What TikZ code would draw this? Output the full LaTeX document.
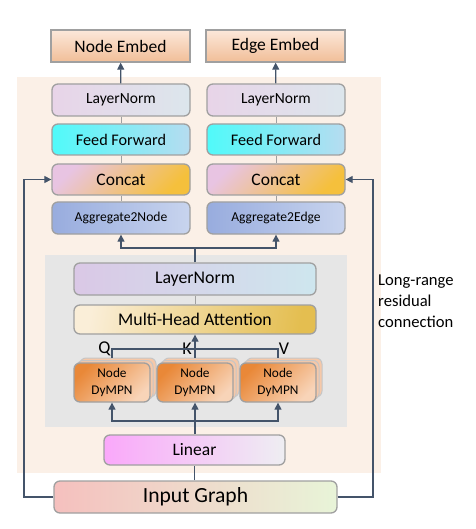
\documentclass[tikz,border=0pt]{standalone}
\usepackage{fontspec}
\setmainfont{Carlito}
\definecolor{boxgray}{HTML}{A0A0A0}
\definecolor{arrowblue}{HTML}{44546A}
\definecolor{peachbg}{HTML}{FBF0E7}
\definecolor{graybg}{HTML}{E6E6E6}
\definecolor{dyfirst}{RGB}{233,136,56}
\definecolor{dylast}{RGB}{248,212,184}
\definecolor{dyback}{RGB}{246,200,168}
\usetikzlibrary{arrows.meta,positioning,calc}

\tikzset{
  blk/.style={draw=boxgray, line width=1.3pt, rounded corners=6pt, inner sep=0pt,
              minimum width=138pt, minimum height=32pt, align=center},
  embed/.style={draw=boxgray, line width=1.3pt, inner sep=0pt, minimum width=139pt,
                minimum height=32pt, top color={rgb,255:red,252;green,232;blue,218},
                bottom color={rgb,255:red,241;green,190;blue,152},
                font=\fontsize{17.5}{20}\selectfont},
  dymp/.style={blk, minimum width=76pt, minimum height=39pt,
               left color=dyfirst, right color=dylast, shading angle=45,
               font=\fontsize{13.3}{17}\selectfont},
  dympback/.style={draw=boxgray!60, line width=1pt, rounded corners=6pt, minimum width=76pt,
                   minimum height=39pt, fill=dyback},
  arr/.style={draw=arrowblue, line width=1.2pt, -{Triangle[length=7pt,width=7pt]}},
  line/.style={draw=arrowblue, line width=1.2pt},
  thin/.style={draw=boxgray, line width=0.9pt}
}

\begin{document}
\begin{tikzpicture}[x=1pt,y=-1pt]
  \useasboundingbox (0,0) rectangle (475,529);

  % backgrounds
  \fill[peachbg] (17,77) rectangle (381,473);
  \fill[graybg] (45,255) rectangle (347,427);

  % outputs
  \node[embed] (nemb) at (120.5,46) {Node Embed};
  \node[embed] (eemb) at (275.5,46) {Edge Embed};

  % node branch
  \node[blk, left color={rgb,255:red,232;green,212;blue,232}, right color={rgb,255:red,220;green,230;blue,236},
        font=\fontsize{15.5}{18}\selectfont] (ln1) at (121,100) {LayerNorm};
  \node[blk, left color={rgb,255:red,80;green,250;blue,250}, right color={rgb,255:red,182;green,220;blue,240},
        minimum height=31pt, font=\fontsize{16.2}{18}\selectfont] (ff1) at (121,139.5) {Feed Forward};
  \node[blk, left color={rgb,255:red,232;green,196;blue,226}, right color={rgb,255:red,245;green,192;blue,60},
        shading angle=45, minimum height=31pt, font=\fontsize{17.5}{20}\selectfont] (cc1) at (121,179.5) {Concat};
  \node[blk, left color={rgb,255:red,152;green,172;blue,222}, right color={rgb,255:red,200;green,212;blue,238},
        font=\fontsize{13.6}{16}\selectfont] (ag1) at (121,218) {Aggregate2Node};

  % edge branch
  \node[blk, left color={rgb,255:red,232;green,212;blue,232}, right color={rgb,255:red,220;green,230;blue,236},
        font=\fontsize{15.5}{18}\selectfont] (ln3) at (276,100) {LayerNorm};
  \node[blk, left color={rgb,255:red,80;green,250;blue,250}, right color={rgb,255:red,182;green,220;blue,240},
        minimum height=31pt, font=\fontsize{16.2}{18}\selectfont] (ff2) at (276,139.5) {Feed Forward};
  \node[blk, left color={rgb,255:red,232;green,196;blue,226}, right color={rgb,255:red,245;green,192;blue,60},
        shading angle=45, minimum height=31pt, font=\fontsize{17.5}{20}\selectfont] (cc2) at (276,179.5) {Concat};
  \node[blk, left color={rgb,255:red,152;green,172;blue,222}, right color={rgb,255:red,200;green,212;blue,238},
        font=\fontsize{13.6}{16}\selectfont] (ag2) at (276,218) {Aggregate2Edge};

  % attention block
  \node[blk, minimum width=242pt, left color={rgb,255:red,218;green,200;blue,230},
        right color={rgb,255:red,206;green,230;blue,238}, font=\fontsize{17.8}{20}\selectfont] (ln2) at (195,279) {LayerNorm};
  \node[blk, minimum width=242pt, minimum height=29pt, left color={rgb,255:red,250;green,238;blue,216},
        right color={rgb,255:red,228;green,190;blue,80}, shading angle=80,
        font=\fontsize{17.8}{20}\selectfont] (mha) at (195,319.5) {Multi-Head Attention};

  % stacked DyMPN blocks
  \foreach \n/\cx in {1/112,2/195,3/278}{
    \node[dympback, xshift=6pt, yshift=5pt] (d\n c) at (\cx,382.5) {};
    \node[dympback, xshift=3pt, yshift=2.5pt] (d\n b) at (\cx,382.5) {};
    \node[dymp] (d\n) at (\cx,382.5) {Node\\DyMPN};
  }

  \node[blk, minimum width=181pt, minimum height=30pt, left color={rgb,255:red,250;green,168;blue,250},
        right color={rgb,255:red,238;green,238;blue,242}, font=\fontsize{17.5}{20}\selectfont] (lin) at (194.5,450) {Linear};
  \node[blk, minimum width=283pt, left color={rgb,255:red,245;green,192;blue,190},
        right color={rgb,255:red,232;green,244;blue,216}, font=\fontsize{21.6}{24}\selectfont] (ig) at (195.5,497) {Input Graph};

  % labels
  \node[font=\fontsize{18}{20}\selectfont] (lq) at (104.5,349) {Q};
  \node[font=\fontsize{18}{20}\selectfont] (lk) at (187,349) {K};
  \node[font=\fontsize{18}{20}\selectfont] (lv) at (284,349) {V};
  \node[anchor=west, align=left, inner sep=0pt, font=\fontsize{16.6}{21}\selectfont] (lrtxt) at (378,301)
    {Long-range\\residual\\connection};

  % connectors
  \draw[arr] (ln1) -- (nemb);
  \draw[arr] (ln3) -- (eemb);
  \draw[thin] (ln1) -- (ff1) (ff1) -- (cc1) (cc1) -- (ag1);
  \draw[thin] (ln3) -- (ff2) (ff2) -- (cc2) (cc2) -- (ag2);
  \draw[thin] (ln2) -- (mha);

  \coordinate (split) at (195,248);
  \draw[line] (ln2.north) -- (split);
  \draw[arr] (split) -| (ag1.south);
  \draw[arr] (split) -| (ag2.south);

  \coordinate (qkv) at (195,349);
  \draw[line] (d1c.north -| d1.north) |- (qkv) -| (d3c.north -| d3.north);
  \draw[arr] (d2c.north -| d2.north) -- (mha.south);

  \coordinate (fan) at (195,421);
  \draw[arr] (lin.north -| d2.south) -- (d2.south);
  \draw[arr] (fan) -| (d1.south);
  \draw[arr] (fan) -| (d3.south);
  \draw[line] (ig.north -| lin.north) -- (lin.south);

  \coordinate (lres) at (24,179.5);
  \coordinate (rres) at (373,179.5);
  \draw[arr] (ig.west) -| (lres) -- (cc1.west);
  \draw[arr] (ig.east) -| (rres) -- (cc2.east);
\end{tikzpicture}
\end{document}
